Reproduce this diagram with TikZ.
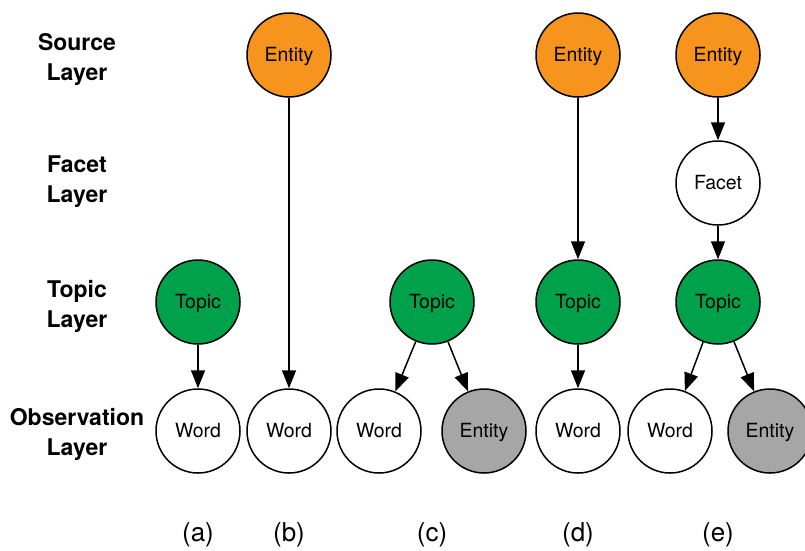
\documentclass[tikz,border=0pt]{standalone}
\usepackage{fontspec}
\setmainfont{TeX Gyre Heros}
\usetikzlibrary{arrows.meta}
\definecolor{entityorange}{HTML}{F7941D}
\definecolor{topicgreen}{HTML}{00A14B}
\definecolor{obsgray}{HTML}{A6A6A6}
\tikzset{
  var/.style={circle, draw, line width=1.5pt, minimum size=84pt, inner sep=0pt,
    text height=13.5pt, text depth=0pt, font=\fontsize{19.5}{21}\selectfont},
  src/.style={var, fill=entityorange},
  tpc/.style={var, fill=topicgreen},
  ent/.style={var, fill=obsgray},
  layer/.style={align=center, font=\bfseries\fontsize{23}{30}\selectfont},
  sublabel/.style={font=\fontsize{26}{28}\selectfont},
  edge/.style={line width=1.5pt, -{Triangle[length=18pt,width=14pt]}}
}
\begin{document}
\begin{tikzpicture}[x=1pt,y=-1pt]
\useasboundingbox (0,0) rectangle (805,550);
% layer names
\node[layer] (lsrc) at (77,59) {Source\\Layer};
\node[layer] (lfct) at (77,182) {Facet\\Layer};
\node[layer] (ltpc) at (77,306) {Topic\\Layer};
\node[layer] (lobs) at (77,434) {Observation\\Layer};
% (a)
\node[tpc] (ta) at (198,302) {Topic};
\node[var] (wa) at (198,431) {Word};
\draw[edge] (ta) -- (wa);
% (b)
\node[src] (eb) at (289,55) {Entity};
\node[var] (wb) at (289,431) {Word};
\draw[edge] (eb) -- (wb);
% (c)
\node[tpc] (tc) at (432,302) {Topic};
\node[var] (wc) at (379,431) {Word};
\node[ent] (oc) at (484,431) {Entity};
\draw[edge] (tc) -- (wc);
\draw[edge] (tc) -- (oc);
% (d)
\node[src] (ed) at (578,55) {Entity};
\node[tpc] (td) at (578,302) {Topic};
\node[var] (wd) at (578,431) {Word};
\draw[edge] (ed) -- (td);
\draw[edge] (td) -- (wd);
% (e)
\node[src] (ee) at (718,55) {Entity};
\node[var] (fe) at (718,183) {Facet};
\node[tpc] (te) at (718,302) {Topic};
\node[var] (we) at (670,431) {Word};
\node[ent] (oe) at (770,431) {Entity};
\draw[edge] (ee) -- (fe);
\draw[edge] (fe) -- (te);
\draw[edge] (te) -- (we);
\draw[edge] (te) -- (oe);
% captions
\node[sublabel] (ca) at (198,535) {(a)};
\node[sublabel] (cb) at (289,535) {(b)};
\node[sublabel] (cc) at (432,535) {(c)};
\node[sublabel] (cd) at (578,535) {(d)};
\node[sublabel] (ce) at (718,535) {(e)};
\end{tikzpicture}
\end{document}
